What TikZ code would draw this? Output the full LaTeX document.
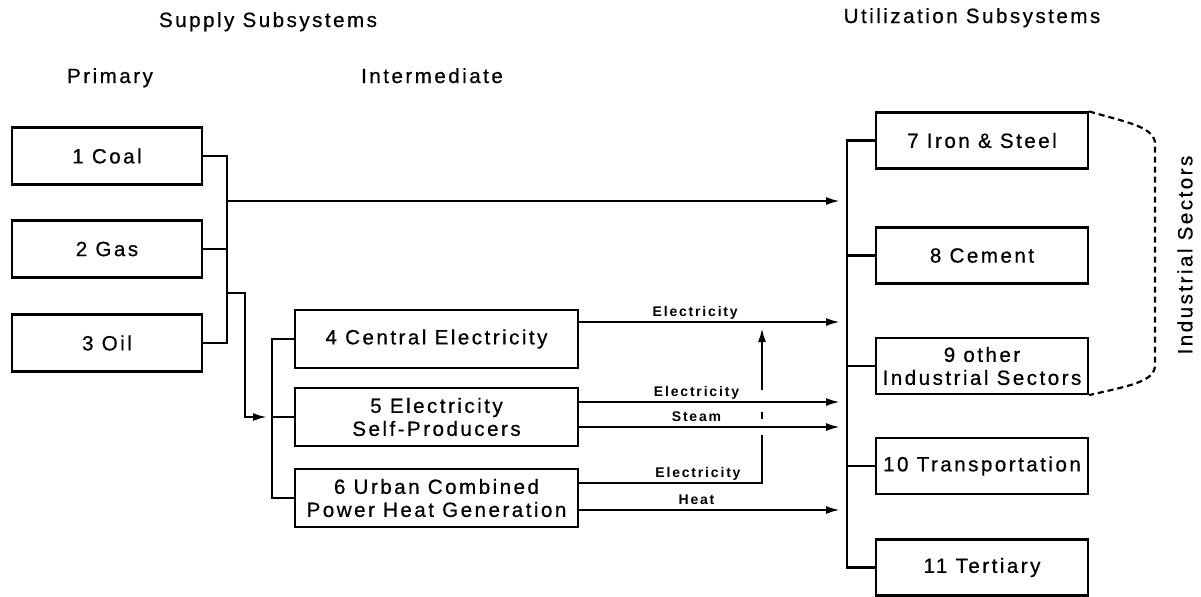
\documentclass[tikz,border=0pt]{standalone}
\usepackage{fontspec}
\setmainfont{Liberation Sans}[LetterSpace=12, FakeBold=0.6]
\newfontfamily\flowfont{Liberation Sans}[LetterSpace=13]
\usetikzlibrary{arrows.meta,calc}

\begin{document}
\begin{tikzpicture}[
  x=0.5pt, y=-0.5pt,
  box/.style={draw, line width=1.1pt, align=center, inner sep=1pt, font=\fontsize{10.3}{11.5}\selectfont},
  prim/.style={box, minimum width=95pt, minimum height=28.5pt},
  inter/.style={box, minimum width=141.5pt, minimum height=29pt},
  sector/.style={box, minimum width=106pt, minimum height=28pt},
  head/.style={anchor=base, inner sep=0pt, font=\fontsize{10.3}{12}\selectfont},
  wire/.style={line width=1.1pt},
  flow/.style={wire, -{Latex[length=7pt, width=4pt]}},
  lbl/.style={anchor=base, yshift=3pt, inner sep=0pt, font=\flowfont\bfseries\fontsize{7}{8}\selectfont},
  bracket/.style={line width=1.1pt, dash pattern=on 3pt off 2pt}
]
\useasboundingbox (0,0) rectangle (1201,596);

\node[head] (supply) at (268,27) {Supply Subsystems};
\node[head] (primary) at (110,83) {Primary};
\node[head] (interm) at (432,83) {Intermediate};
\node[head] (util) at (972,23) {Utilization Subsystems};
\node[font=\fontsize{10.3}{12}\selectfont, rotate=90] (indsec) at (1185,255) {Industrial Sectors};

\node[prim] (coal) at (107,156) {1 Coal};
\node[prim] (gas) at (107,249) {2 Gas};
\node[prim] (oil) at (107,343) {3 Oil};

\node[inter] (central) at (436.5,339) {4 Central Electricity};
\node[inter] (selfprod) at (436.5,417) {5 Electricity\\Self-Producers};
\node[inter] (urban) at (436.5,498) {6 Urban Combined\\Power Heat Generation};

\node[sector] (steel) at (982,140.5) {7 Iron \& Steel};
\node[sector] (cement) at (982,255.5) {8 Cement};
\node[sector] (other) at (982,366) {9 other\\Industrial Sectors};
\node[sector] (transport) at (982,466) {10 Transportation};
\node[sector] (tertiary) at (982,567.5) {11 Tertiary};

\coordinate (lbus) at (227,0);
\coordinate (drop) at (245,0);
\coordinate (ibus) at (272,0);
\coordinate (riser) at (762,0);
\coordinate (tip) at (840,0);
\coordinate (rbus) at (847,0);
\coordinate (direct) at (227,201);
\coordinate (branch) at (227,293);

\draw[wire] (coal.east) -| (lbus |- oil.east) -- (oil.east);
\draw[wire] (gas.east) -- (gas.east -| lbus);
\draw[flow] (direct) -- (direct -| tip);
\draw[flow] (branch) -| (drop |- selfprod.west) -- ($(selfprod.west -| ibus)+(-5,0)$);

\draw[wire] (central.west) -| (ibus |- urban.west) -- (urban.west);
\draw[wire] (selfprod.west) -- (selfprod.west -| ibus);

\draw[wire] (steel.west) -| (rbus |- tertiary.west) -- (tertiary.west);
\foreach \s in {cement,other,transport}
  \draw[wire] (\s.west) -- (\s.west -| rbus);

\coordinate (e4) at ($(central.east)+(0,-17)$);
\coordinate (e5) at ($(selfprod.east)+(0,-15)$);
\coordinate (s5) at ($(selfprod.east)+(0,10)$);
\coordinate (e6) at ($(urban.east)+(0,-15)$);
\coordinate (h6) at ($(urban.east)+(0,12)$);

\draw[flow] (e4) -- node[lbl, pos=0.445] {Electricity} (e4 -| tip);
\draw[flow] (e5) -- node[lbl, pos=0.45] {Electricity} (e5 -| tip);
\draw[flow] (s5) -- node[lbl, pos=0.45] {Steam} (s5 -| tip);
\draw[flow] (h6) -- node[lbl, pos=0.45] {Heat} (h6 -| tip);

\draw[wire] (e6) -- node[lbl, pos=0.65] {Electricity} (e6 -| riser) -- ($(s5 -| riser)+(0,8)$);
\draw[wire] ($(s5 -| riser)+(0,-8)$) -- ($(e5 -| riser)+(0,10)$);
\draw[flow] ($(e5 -| riser)+(0,-12)$) -- ($(e4 -| riser)+(0,6)$);

\draw[bracket] (steel.north east) .. controls (1125,122) and (1152,126) .. (1155,142) -- (1155,365) .. controls (1155,382) and (1128,386) .. (other.south east);
\end{tikzpicture}
\end{document}
